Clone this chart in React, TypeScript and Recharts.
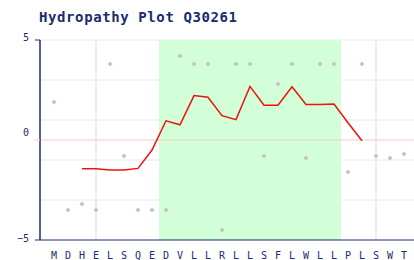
import React from 'react';
import { ComposedChart, Line, Scatter, XAxis, YAxis, CartesianGrid, ReferenceArea, ReferenceLine } from 'recharts';

const residues = ['M', 'D', 'H', 'E', 'L', 'S', 'Q', 'E', 'D', 'V', 'L', 'L', 'R', 'L', 'L', 'S', 'F', 'L', 'W', 'L', 'L', 'P', 'L', 'S', 'W', 'T'];
const residueScores = [1.9, -3.5, -3.2, -3.5, 3.8, -0.8, -3.5, -3.5, -3.5, 4.2, 3.8, 3.8, -4.5, 3.8, 3.8, -0.8, 2.8, 3.8, -0.9, 3.8, 3.8, -1.6, 3.8, -0.8, -0.9, -0.7];
// window average, drawn from position 3 to 23
const windowStart = 3;
const windowAvg = [-1.44, -1.44, -1.5, -1.5, -1.42, -0.5, 0.96, 0.76, 2.22, 2.14, 1.22, 1.02, 2.68, 1.74, 1.74, 2.66, 1.78, 1.78, 1.8, 0.86, -0.04];
const yTicks = [-5, 0, 5];
const hGrid = [-4, -3, -2, -1, 1, 2, 3, 4, 5];
const vGrid = [4, 9, 14, 19, 24];
const region = [8.5, 21.5];

const NAVY = '#1c2b70';
const FONT = '"DejaVu Sans Mono", monospace';

const tableData = residues.map((r, i) => {
  const pos = i + 1;
  const k = pos - windowStart;
  return { x: pos, kd: residueScores[i], avg: k >= 0 && k < windowAvg.length ? windowAvg[k] : null };
});

const YTick = (props: any) => {
  const { x, y, payload } = props;
  const v = payload.value;
  const shift = v === 0 ? -4 : v === 5 ? 1 : 2;
  return (
    <g>
      <line x1={x + 6} x2={x + 11} y1={y} y2={y} stroke={v === 0 ? '#ffc4c4' : NAVY} strokeWidth={1} />
      <text x={x} y={y + shift} textAnchor="end" fill={NAVY} fontSize={10} fontFamily={FONT}>
        {v < 0 ? '\u2212' + Math.abs(v) : v}
      </text>
    </g>
  );
};

const Marker = (props: any) => {
  const { cx, cy } = props;
  if (cx == null || cy == null) return null;
  return <polygon points={`${cx},${cy - 2.6} ${cx + 2.6},${cy} ${cx},${cy + 2.6} ${cx - 2.6},${cy}`} fill="#c4c4c4" />;
};

export default function App() {
  return (
    <div style={{ position: 'absolute', left: 0, top: 0, width: 414, height: 260, overflow: 'hidden', background: '#fff' }}>
      <svg width={414} height={30} style={{ position: 'absolute', left: 0, top: 0 }}>
        <text x={39} y={22} fill={NAVY} fontSize={14} fontWeight="bold" fontFamily={FONT} letterSpacing={0.6}>
          Hydropathy Plot Q30261
        </text>
      </svg>
      <div style={{ position: 'absolute', left: 0, top: 0 }}>
        <ComposedChart width={418} height={260} data={tableData} margin={{ top: 40, right: 0, bottom: 0, left: 0 }}>
          <ReferenceArea x1={region[0]} x2={region[1]} y1={-5} y2={5} fill="#d2fed8" fillOpacity={1} stroke="none" />
          <CartesianGrid vertical={false} horizontalValues={hGrid} stroke="#e8e8e8" strokeWidth={1} />
          <CartesianGrid horizontal={false} verticalValues={vGrid} stroke="#ececec" strokeWidth={2} />
          <ReferenceLine y={0} stroke="#ffc4c4" strokeWidth={1} />
          <XAxis
            type="number"
            dataKey="x"
            domain={[0, 27]}
            ticks={residues.map((_, i) => i + 1)}
            tickFormatter={(v: number) => residues[v - 1]}
            interval={0}
            axisLine={{ stroke: NAVY, strokeWidth: 1 }}
            tickLine={false}
            height={20}
            tickMargin={6}
            tick={{ fill: NAVY, fontSize: 10, fontFamily: FONT }}
          />
          <YAxis
            type="number"
            domain={[-5, 5]}
            ticks={yTicks}
            width={40}
            axisLine={{ stroke: NAVY, strokeWidth: 1.5 }}
            tickLine={false}
            tickSize={5}
            tickMargin={6}
            tick={<YTick />}
          />
          <Scatter dataKey="kd" shape={<Marker />} isAnimationActive={false} />
          <Line dataKey="avg" type="linear" stroke="#ee1111" strokeWidth={1.5} dot={false} connectNulls={false} isAnimationActive={false} />
        </ComposedChart>
      </div>
    </div>
  );
}
